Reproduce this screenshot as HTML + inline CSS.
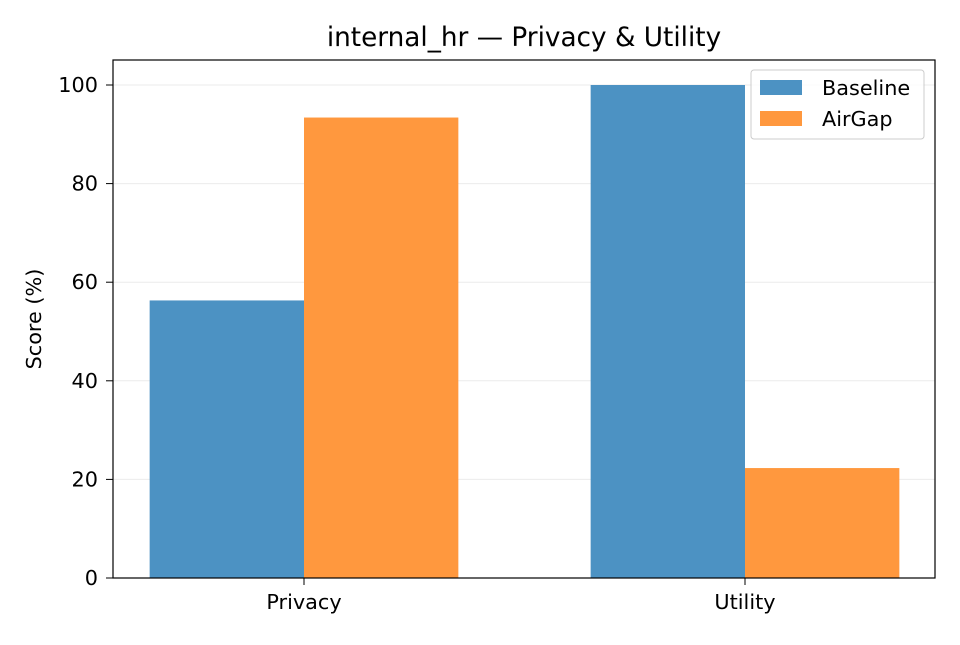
<!DOCTYPE html>
<html><head><meta charset="utf-8"><style>
body{margin:0;background:#fff;}
svg text{font-family:"DejaVu Sans","Liberation Sans",sans-serif;fill:#000;}
</style></head><body>
<svg id="chart" width="960" height="640" viewBox="0 0 960 640">
<rect width="960" height="640" fill="#fff"/>
<text x="524" y="46" font-size="26.3" text-anchor="middle">internal_hr — Privacy &amp; Utility</text>
<g id="grid"></g><g id="bars"></g><g id="axes"></g>
<text transform="translate(41,319) rotate(-90)" font-size="20.8" text-anchor="middle">Score (%)</text>
<g>
<rect x="751" y="70" width="173" height="69" fill="#fff" fill-opacity="0.8" stroke="#ccc" rx="3"/>
<rect x="760" y="80" width="42" height="15" fill="#4c92c3"/>
<text x="822" y="95" font-size="20.8">Baseline</text>
<rect x="760" y="111" width="42" height="15" fill="#ff983e"/>
<text x="822" y="126" font-size="20.8">AirGap</text>
</g>
</svg>
<script>
const categories=["Privacy","Utility"];
const baseline=[56.3,100];
const airgap=[93.4,22.3];
const yTicks=[0,20,40,60,80,100];
const seriesNames=["Baseline","AirGap"];
const NS="http://www.w3.org/2000/svg";
const L=113,R=935,T=60,B=578;
const x=v=>304+(v)*441;
const y=v=>578-v*4.93;
function mk(t,a,p){const e=document.createElementNS(NS,t);for(const k in a)e.setAttribute(k,a[k]);p.appendChild(e);return e;}
const grid=document.getElementById('grid'),bars=document.getElementById('bars'),axes=document.getElementById('axes');
yTicks.forEach(t=>{
 const g=mk('line',{x1:L,x2:R,y1:y(t),y2:y(t),stroke:'#ebebeb','stroke-width':1},grid);
 
 
 const tk=mk('line',{x1:L-7,x2:L,y1:y(t),y2:y(t),stroke:'#000'},axes);
 
 
 const tx=mk('text',{x:L-15,y:y(t)+7,'font-size':20.8,'text-anchor':'end'},axes);
 tx.textContent=t;
 
 
});
const w=0.35*441;
[baseline,airgap].forEach((s,si)=>{
 s.forEach((v,i)=>{
  const cx=x(i)+(si===0?-w:0);
  const r=mk('rect',{x:cx,y:y(v),width:w,height:y(0)-y(v),fill:si===0?'#4c92c3':'#ff983e'},bars);
  
  
 });
});
categories.forEach((c,i)=>{
 const tk=mk('line',{x1:x(i),x2:x(i),y1:B,y2:B+7,stroke:'#000'},axes);
 
 
 const tx=mk('text',{x:x(i),y:B+31,'font-size':20.8,'text-anchor':'middle'},axes);
 tx.textContent=c;
 
 
});
const fr=mk('rect',{x:L,y:T,width:R-L,height:B-T,fill:'none',stroke:'#000','stroke-width':1.2},axes);


</script>
</body></html>
